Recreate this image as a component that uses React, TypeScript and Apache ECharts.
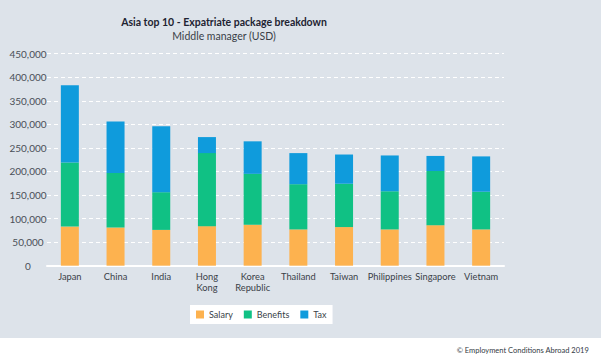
import React, { useEffect, useRef } from "react";
import * as echarts from "echarts";

const categories = ["Japan", "China", "India", "Hong\nKong", "Korea\nRepublic", "Thailand", "Taiwan", "Philippines", "Singapore", "Vietnam"];
const salary = [83000, 81000, 76000, 84000, 87000, 77000, 82000, 77000, 86000, 77000];
const benefits = [136000, 116000, 80000, 155000, 108000, 96000, 92000, 81000, 115000, 80000];
const tax = [164000, 109000, 140000, 34000, 69000, 66000, 62000, 76000, 32000, 75000];
const seriesNames = ["Salary", "Benefits", "Tax"];
const colors = ["#fdb24f", "#10c184", "#0f9bdc"];

const FONT = "Lato, 'Open Sans', sans-serif";

export default function App() {
  const ref = useRef<HTMLDivElement>(null);
  useEffect(() => {
    if (!ref.current) return;
    const chart = echarts.init(ref.current, undefined, { renderer: "svg" });
    const data = [salary, benefits, tax];
    chart.setOption({
      animation: false,
      backgroundColor: "#ffffff",
      textStyle: { fontFamily: FONT },
      graphic: [
        { type: "rect", z: -10, silent: true, shape: { x: 0, y: 0, width: 601, height: 338 }, style: { fill: "#dde3ea" } },
        {
          type: "text",
          right: 12,
          top: 346,
          style: { text: "© Employment Conditions Abroad 2019", fill: "#333a44", font: `7.5px ${FONT}` },
        },
      ],
      title: [
        {
          text: "Asia top 10 - Expatriate package breakdown",
          left: 224,
          top: 16,
          textAlign: "center",
          padding: 0,
          textStyle: { fontSize: 10.5, fontWeight: "bold", color: "#1e2332", fontFamily: FONT },
        },
        {
          text: "Middle manager (USD)",
          left: 224,
          top: 30,
          textAlign: "center",
          padding: 0,
          textStyle: { fontSize: 10.5, fontWeight: "normal", color: "#3a3f48", fontFamily: FONT },
        },
      ],
      legend: {
        data: seriesNames,
        left: 190,
        top: 305,
        backgroundColor: "#ffffff",
        padding: [5, 6],
        itemWidth: 8,
        itemHeight: 8,
        itemGap: 11,
        icon: "rect",
        textStyle: { fontSize: 9, color: "#3a3f48", fontFamily: FONT },
      },
      grid: { left: 47, right: 97, top: 53.7, bottom: 96.3, containLabel: false },
      xAxis: {
        type: "category",
        data: categories,
        axisLine: { lineStyle: { color: "#ffffff", width: 2 } },
        axisTick: { show: false },
        axisLabel: { interval: 0, fontSize: 9.3, color: "#3a3f48", lineHeight: 11, margin: 5, fontFamily: FONT },
      },
      yAxis: {
        type: "value",
        min: 0,
        max: 450000,
        interval: 50000,
        axisLine: { show: false },
        axisTick: { show: false },
        splitLine: { lineStyle: { color: "#ffffff", type: [4, 3], width: 1 } },
        axisLabel: {
          fontSize: 10,
          color: "#4a4f58",
          align: "center",
          margin: 19,
          fontFamily: FONT,
          formatter: (v: number) => (v === 0 ? "0" : v.toLocaleString("en-US")),
        },
      },
      series: seriesNames.map((name, i) => ({
        name,
        type: "bar",
        stack: "total",
        barWidth: 18,
        itemStyle: { color: colors[i] },
        data: data[i],
      })),
    });
    return () => chart.dispose();
  }, []);
  return <div ref={ref} style={{ position: "fixed", left: 0, top: 0, width: 601, height: 362 }} />;
}
